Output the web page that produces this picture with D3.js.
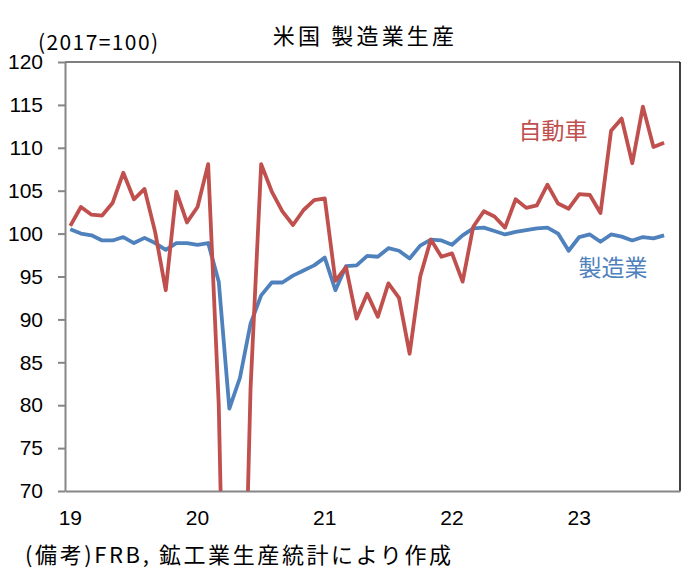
<!DOCTYPE html>
<meta charset="utf-8">
<style>
  body { margin: 0; background: #fff; }
  text { font-family: "Noto Sans CJK JP", "Noto Sans", sans-serif; fill: #000; }
</style>
<svg width="696" height="580"></svg>
<script src="https://d3js.org/d3.v7.min.js"></script>
<script>

    // US manufacturing output vs motor vehicles, monthly, 2017=100
    // categories run Jan 2019 .. Oct 2023 (last month left empty like the original sheet)

    var years = ["19", "20", "21", "22", "23"];
    var months = [];
    years.forEach(function (y) {
        for (var m = 1; m <= 12; m++) months.push(y + "-" + (m < 10 ? "0" + m : m));
    });
    months = months.slice(0, 58);

    // 製造業
    var manufacturing = [100.5, 100.0, 99.8, 99.2, 99.2, 99.6, 98.9, 99.5, 98.9, 98.1, 98.9, 98.9,
        98.7, 98.9, 94.4, 79.6, 83.2, 89.5, 92.8, 94.3, 94.3, 95.1, 95.7, 96.3,
        97.2, 93.4, 96.2, 96.3, 97.4, 97.3, 98.3, 98.0, 97.1, 98.6, 99.3, 99.2,
        98.7, 99.8, 100.6, 100.7, 100.3, 99.9, 100.2, 100.4, 100.6, 100.7, 100.0, 98.0,
        99.6, 99.9, 99.05, 99.9, 99.65, 99.2, 99.6, 99.45, 99.8];

    // 自動車
    var autos = [100.9, 103.1, 102.2, 102.1, 103.6, 107.1, 104.0, 105.2, 100.2, 93.4, 104.9, 101.3,
        103.1, 108.1, 80.0, 22.0, 33.0, 82.0, 108.1, 104.9, 102.6, 101.0, 102.75, 103.9,
        104.1, 94.5, 96.1, 90.1, 93.0, 90.3, 94.2, 92.5, 86.0, 95.0, 99.3, 97.3,
        97.7, 94.4, 100.8, 102.6, 102.0, 100.7, 104.0, 103.0, 103.3, 105.7, 103.5, 102.9,
        104.6, 104.5, 102.4, 112.0, 113.4, 108.2, 114.8, 110.1, 110.6];

    var yTicks = [70, 75, 80, 85, 90, 95, 100, 105, 110, 115, 120];

    var svg = d3.select("svg"),
        margin = {top: 62, right: 16, bottom: 89, left: 65},
        width = +svg.attr("width") - margin.left - margin.right,
        height = +svg.attr("height") - margin.top - margin.bottom,
        g = svg.append("g").attr("transform", "translate(" + margin.left + "," + margin.top + ")");

    var x = d3.scaleBand().domain(months).range([0, width]).padding(0);
    var y = d3.scaleLinear().domain([70, 120]).range([height, 0]);

    var cx = function (i) { return x(months[i]) + x.bandwidth() / 2; };

    svg.append("defs").append("clipPath").attr("id", "plot")
        .append("rect").attr("width", width).attr("height", height);

    // frame: black top/right, grey axes left/bottom
    g.append("line").attr("x1", 0).attr("x2", width).attr("y1", 0).attr("y2", 0)
        .attr("stroke", "#000").attr("stroke-width", 1.2);
    g.append("line").attr("x1", width).attr("x2", width).attr("y1", 0).attr("y2", height)
        .attr("stroke", "#000").attr("stroke-width", 1.5);

    var yAxis = g.append("g")
        .call(d3.axisLeft(y).tickValues(yTicks).tickSize(7).tickPadding(15).tickSizeOuter(0));
    yAxis.select(".domain").attr("stroke", "#868686").attr("stroke-width", 2);
    yAxis.selectAll(".tick line").attr("stroke", "#868686").attr("stroke-width", 2);
    yAxis.selectAll(".tick text").attr("font-size", 21).attr("fill", "#000")
        .style("font-family", "'Liberation Sans', 'Noto Sans', sans-serif");

    var xAxis = g.append("g").attr("transform", "translate(0," + height + ")")
        .call(d3.axisBottom(x)
            .tickValues(months.filter(function (d) { return d.slice(3) === "01"; }))
            .tickFormat(function (d) { return d.slice(0, 2); })
            .tickSize(0).tickPadding(19));
    xAxis.select(".domain").attr("stroke", "#868686").attr("stroke-width", 2);
    xAxis.selectAll(".tick text").attr("font-size", 21).attr("fill", "#000")
        .style("font-family", "'Liberation Sans', 'Noto Sans', sans-serif");

    var line = d3.line()
        .x(function (d, i) { return cx(i); })
        .y(function (d) { return y(d); });

    var lines = g.append("g").attr("clip-path", "url(#plot)");

    lines.append("path").datum(manufacturing)
        .attr("d", line)
        .attr("fill", "none")
        .attr("stroke", "#4F81BD")
        .attr("stroke-width", 3.8)
        .attr("stroke-linejoin", "round");

    lines.append("path").datum(autos)
        .attr("d", line)
        .attr("fill", "none")
        .attr("stroke", "#C0504D")
        .attr("stroke-width", 3.8)
        .attr("stroke-linejoin", "round");

    // texts
    svg.append("text").attr("x", 365).attr("y", 44).attr("text-anchor", "middle")
        .attr("font-size", 22).attr("letter-spacing", 3.2)
        .text("米国 製造業生産");

    svg.append("text").attr("x", 38).attr("y", 50)
        .attr("font-size", 21).attr("letter-spacing", 1.4)
        .text("(2017=100)");

    svg.append("text").attr("x", 553).attr("y", 139).attr("text-anchor", "middle")
        .attr("font-size", 23).style("fill", "#C0504D")
        .text("自動車");

    svg.append("text").attr("x", 613).attr("y", 276).attr("text-anchor", "middle")
        .attr("font-size", 23).style("fill", "#4F81BD")
        .text("製造業");

    svg.append("text").attr("x", 25).attr("y", 563)
        .attr("font-size", 22).attr("letter-spacing", 2.6)
        .text("(備考)FRB, 鉱工業生産統計により作成");

</script>
